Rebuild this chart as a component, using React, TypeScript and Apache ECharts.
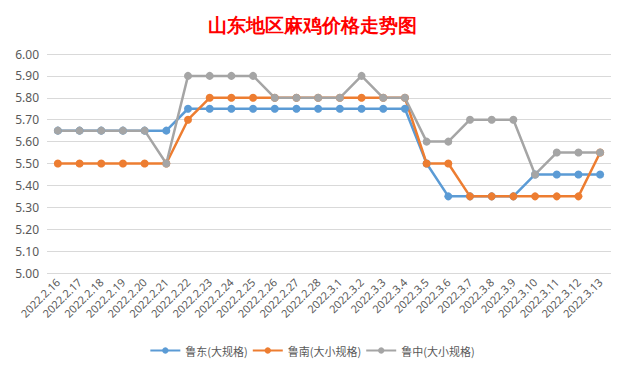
import React, { useEffect, useRef } from "react";
import * as echarts from "echarts";

const categories = [
  "2022.2.16", "2022.2.17", "2022.2.18", "2022.2.19", "2022.2.20", "2022.2.21",
  "2022.2.22", "2022.2.23", "2022.2.24", "2022.2.25", "2022.2.26", "2022.2.27",
  "2022.2.28", "2022.3.1", "2022.3.2", "2022.3.3", "2022.3.4", "2022.3.5",
  "2022.3.6", "2022.3.7", "2022.3.8", "2022.3.9", "2022.3.10", "2022.3.11",
  "2022.3.12", "2022.3.13",
];

const ludong = [
  5.65, 5.65, 5.65, 5.65, 5.65, 5.65, 5.75, 5.75, 5.75, 5.75, 5.75, 5.75, 5.75,
  5.75, 5.75, 5.75, 5.75, 5.5, 5.35, 5.35, 5.35, 5.35, 5.45, 5.45, 5.45, 5.45,
];
const lunan = [
  5.5, 5.5, 5.5, 5.5, 5.5, 5.5, 5.7, 5.8, 5.8, 5.8, 5.8, 5.8, 5.8,
  5.8, 5.8, 5.8, 5.8, 5.5, 5.5, 5.35, 5.35, 5.35, 5.35, 5.35, 5.35, 5.55,
];
const luzhong = [
  5.65, 5.65, 5.65, 5.65, 5.65, 5.5, 5.9, 5.9, 5.9, 5.9, 5.8, 5.8, 5.8,
  5.8, 5.9, 5.8, 5.8, 5.6, 5.6, 5.7, 5.7, 5.7, 5.45, 5.55, 5.55, 5.55,
];

const seriesNames = ["鲁东(大规格)", "鲁南(大小规格)", "鲁中(大小规格)"];
const colors = ["#5B9BD5", "#ED7D31", "#A5A5A5"];
const title = "山东地区麻鸡价格走势图";

export default function App() {
  const ref = useRef<HTMLDivElement>(null);
  useEffect(() => {
    if (!ref.current) return;
    const chart = echarts.init(ref.current, null, { renderer: "svg" });
    const data = [ludong, lunan, luzhong];
    chart.setOption({
      animation: false,
      backgroundColor: "#ffffff",
      title: {
        text: title,
        left: "center",
        top: 10,
        textStyle: {
          color: "#FF0000",
          fontSize: 18.5,
          fontWeight: "bold",
          fontFamily: "serif",
        },
      },
      grid: { left: 46, right: 12, top: 53, bottom: 100, containLabel: false },
      legend: {
        bottom: 12,
        left: "center",
        itemWidth: 30,
        itemHeight: 8,
        itemGap: 4,
        textStyle: { color: "#595959", fontSize: 11, fontFamily: "Noto Sans CJK SC" },
        data: seriesNames,
      },
      xAxis: {
        type: "category",
        data: categories,
        boundaryGap: true,
        axisLine: { show: false },
        axisTick: { show: false },
        axisLabel: {
          rotate: 45,
          interval: 0,
          color: "#595959",
          fontSize: 11,
          margin: 7,
          fontFamily: "Noto Sans",
        },
      },
      yAxis: {
        type: "value",
        min: 5,
        max: 6,
        interval: 0.1,
        axisLine: { show: false },
        axisTick: { show: false },
        axisLabel: {
          formatter: (v: number) => v.toFixed(2),
          color: "#595959",
          fontSize: 12,
          margin: 8,
          fontFamily: "Noto Sans",
        },
        splitLine: { lineStyle: { color: "#D9D9D9", width: 1 } },
      },
      series: seriesNames.map((name, i) => ({
        name,
        type: "line",
        data: data[i],
        symbol: "circle",
        symbolSize: 8,
        itemStyle: { color: colors[i] },
        lineStyle: { color: colors[i], width: 2.5 },
      })),
    });
    return () => chart.dispose();
  }, []);
  return (
    <div
      style={{
        position: "fixed",
        left: 0,
        top: 0,
        width: 622,
        height: 372,
        background: "#ffffff",
      }}
    >
      <div
        style={{
          position: "absolute",
          left: 2,
          top: 2,
          width: 614,
          height: 366,
          border: "1px solid #D9D9D9",
          boxSizing: "border-box",
        }}
      >
        <div ref={ref} style={{ position: "absolute", left: -2, top: -2, width: 622, height: 372 }} />
      </div>
    </div>
  );
}
